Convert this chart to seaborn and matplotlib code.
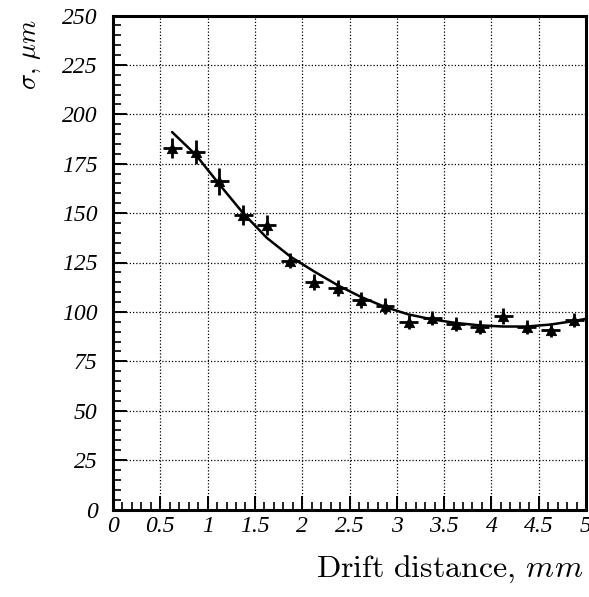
import numpy as np
import pandas as pd
import seaborn as sns
import matplotlib
matplotlib.use("Agg")
import matplotlib.pyplot as plt
from matplotlib.ticker import MultipleLocator, FixedLocator, FixedFormatter

# Measured spatial resolution vs drift distance
drift_mm = [0.625, 0.875, 1.125, 1.375, 1.625, 1.875, 2.125, 2.375, 2.625,
            2.875, 3.125, 3.375, 3.625, 3.875, 4.125, 4.375, 4.625, 4.875]
sigma_um = [183, 181, 166, 149, 144, 126, 115, 112, 106,
            103, 95, 97, 94, 92.5, 98, 92.5, 91, 96]
sigma_err = [5, 6, 7, 5, 5, 4, 4, 4, 4, 4, 3.5, 3.5, 3.5, 3.5, 4, 3.5, 3.5, 3.5]
drift_err = [0.1] * len(drift_mm)

# Fitted curve
fit_x = [0.625, 0.875, 1.125, 1.375, 1.625, 1.875, 2.125, 2.375, 2.625, 2.875,
         3.125, 3.375, 3.625, 3.875, 4.125, 4.375, 4.625, 4.875, 5.0]
fit_y = [191, 179.5, 164.5, 150, 137.5, 128, 120.5, 113.5, 107.5, 102.5,
         98.7, 96.2, 94.4, 93.2, 92.6, 92.6, 93.6, 95.4, 96.5]

x_ticks = [0, 0.5, 1, 1.5, 2, 2.5, 3, 3.5, 4, 4.5, 5]
x_tick_labels = ["0", "0.5", "1", "1.5", "2", "2.5", "3", "3.5", "4", "4.5", "5"]
y_ticks = [0, 25, 50, 75, 100, 125, 150, 175, 200, 225, 250]

sns.set_theme(style="white")
plt.rcParams["mathtext.fontset"] = "cm"

fig = plt.figure(figsize=(5.89, 5.97), dpi=100)
ax = fig.add_axes([113 / 589, (597 - 509.5) / 597, 473 / 589, 494 / 597])

pts = pd.DataFrame({"x": drift_mm, "y": sigma_um})
fit = pd.DataFrame({"x": fit_x, "y": fit_y})

sns.lineplot(data=fit, x="x", y="y", ax=ax, color="black", lw=1.8,
             sort=False, zorder=3)
ax.errorbar(drift_mm, sigma_um, yerr=sigma_err, xerr=drift_err, fmt="none",
            ecolor="black", elinewidth=2.0, capsize=0, zorder=4)
sns.scatterplot(data=pts, x="x", y="y", ax=ax, marker="^", s=55,
                color="black", edgecolor="black", zorder=5)

ax.set_xlim(0, 5)
ax.set_ylim(0, 250)

ax.xaxis.set_major_locator(FixedLocator(x_ticks))
ax.xaxis.set_major_formatter(FixedFormatter(x_tick_labels))
ax.xaxis.set_minor_locator(MultipleLocator(0.1))
ax.yaxis.set_major_locator(FixedLocator(y_ticks))
ax.yaxis.set_minor_locator(MultipleLocator(5))

ax.tick_params(axis="both", which="major", direction="in", length=10,
               width=1.4, color="black", bottom=True, left=True,
               top=False, right=False)
ax.tick_params(axis="both", which="minor", direction="in", length=6,
               width=1.2, color="black", bottom=True, left=True,
               top=False, right=False)
ax.tick_params(axis="x", which="major", pad=5)
ax.tick_params(axis="y", which="major", pad=11)

for lab in ax.get_xticklabels() + ax.get_yticklabels():
    lab.set_fontfamily("Liberation Serif")
    lab.set_fontstyle("italic")
    lab.set_fontsize(17)
    lab.set_color("black")

ax.grid(True, which="major", color="black", lw=0.9, linestyle=(0, (1, 1.6)))
ax.set_axisbelow(True)

for sp in ax.spines.values():
    sp.set_visible(True)
    sp.set_color("black")
    sp.set_linewidth(2.2)

ax.set_xlabel("")
ax.set_ylabel("")
fig.text(583 / 589, 1 - 569 / 597, r"$\mathrm{Drift\ distance,}\,mm$",
         ha="right", va="center", fontsize=23, color="black")
fig.text(30 / 589, 1 - 54 / 597, r"$\sigma,\,\mu m$", rotation=90,
         ha="center", va="center", fontsize=19, color="black")

fig.savefig("out.png", dpi=100, facecolor="white")
